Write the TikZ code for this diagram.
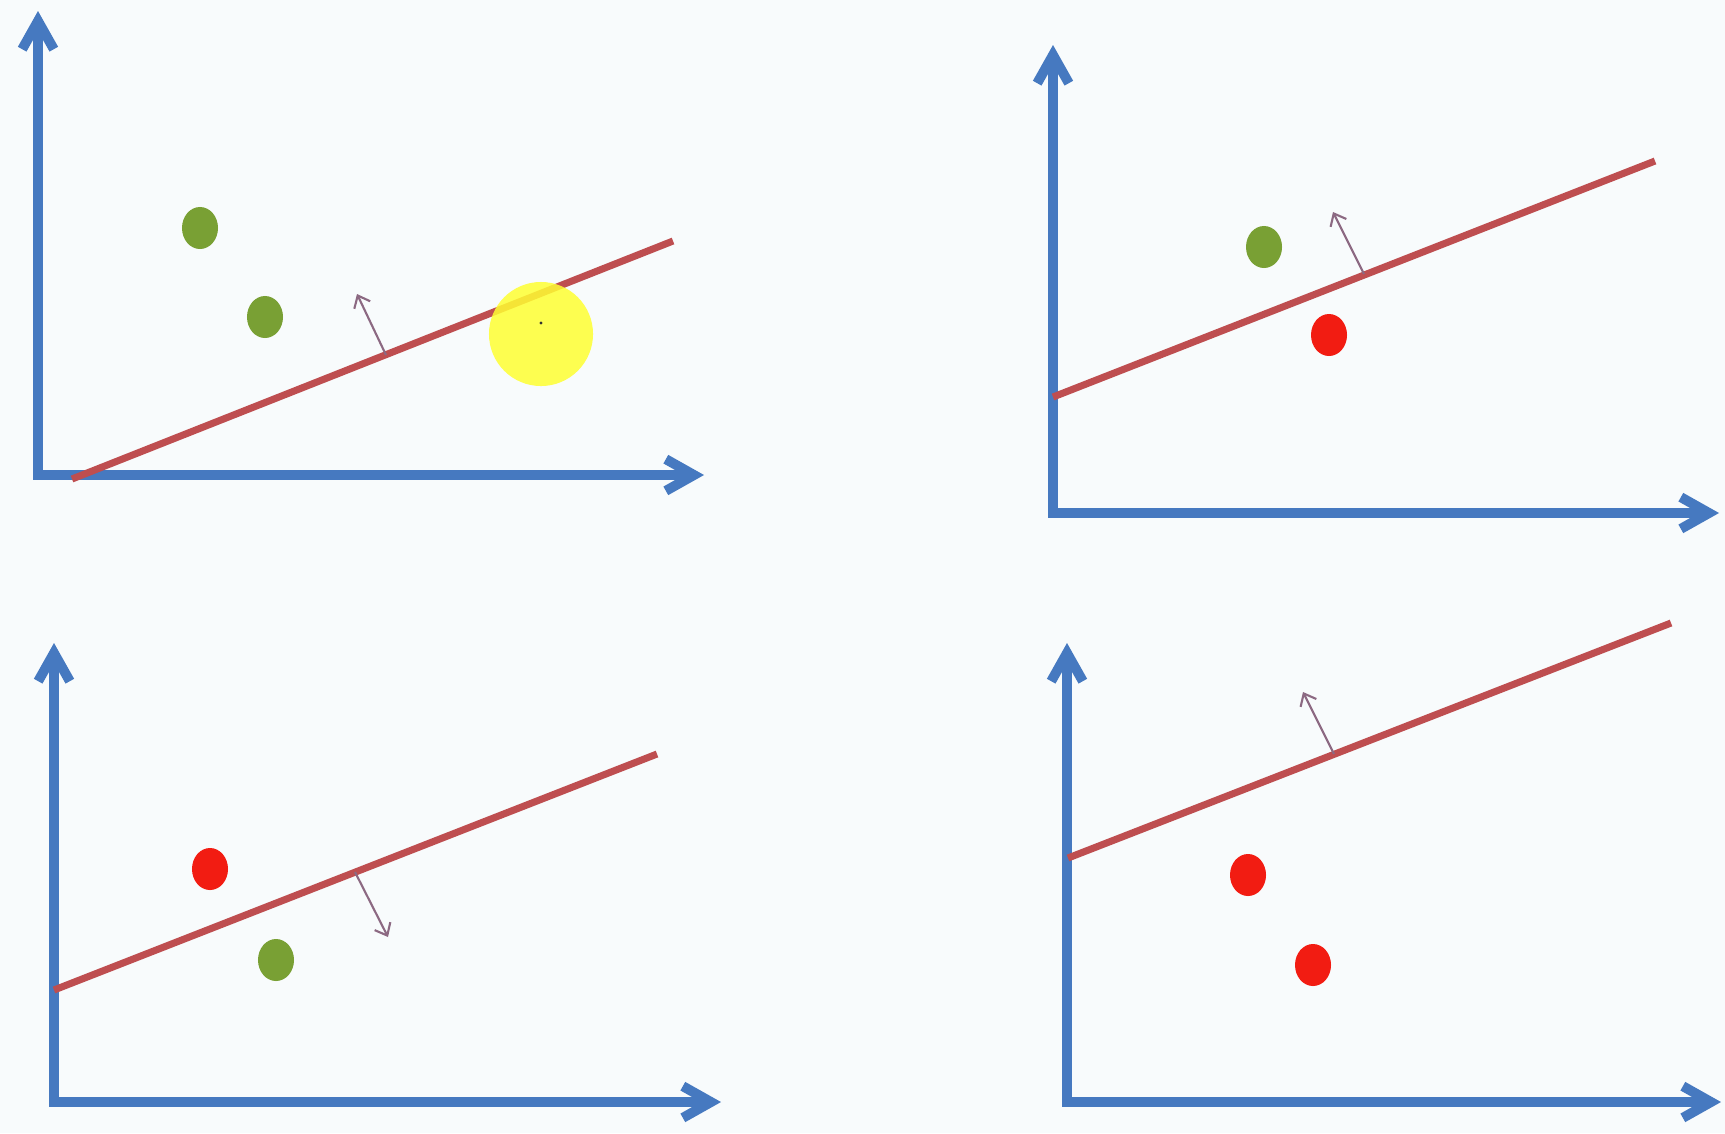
\documentclass[tikz,border=0pt]{standalone}
\usepackage{tikz}
\usetikzlibrary{arrows.meta,shapes.geometric}
\definecolor{axblue}{RGB}{70,121,192}
\definecolor{sepred}{RGB}{190,78,80}
\definecolor{ptgreen}{RGB}{121,160,52}
\definecolor{ptred}{RGB}{242,28,18}
\definecolor{nrmgray}{RGB}{140,105,130}
\definecolor{bgpaper}{RGB}{248,251,252}
\definecolor{hilite}{RGB}{255,255,50}

\begin{document}
\begin{tikzpicture}[x=0.01cm,y=-0.01cm,
  ax/.style={draw=axblue,line width=2.8pt,line cap=rect,-{Straight Barb[length=8pt,width=9pt]}},
  sep/.style={draw=sepred,line width=2pt},
  nrm/.style={draw=nrmgray,line width=0.6pt,-{Straight Barb[length=3pt,width=5pt]}},
  pt/.style={ellipse,minimum width=0.36cm,minimum height=0.42cm,inner sep=0pt},
  gpt/.style={pt,fill=ptgreen},
  rpt/.style={pt,fill=ptred}]
\fill[bgpaper] (0,0) rectangle (1725,1133);
\useasboundingbox (0,0) rectangle (1725,1133);

% top left
\coordinate (o1) at (38,475);
\coordinate (y1) at (38,11);
\coordinate (x1) at (704,475);
\coordinate (s1a) at (72,479);
\coordinate (s1b) at (673,241);
\coordinate (n1a) at (386,355);
\coordinate (n1b) at (357,294);
\draw[ax] (o1) -- (y1);
\draw[ax] (o1) -- (x1);
\draw[sep] (s1a) -- (s1b);
\draw[nrm] (n1a) -- (n1b);
\node[gpt] (g1) at (200,228) {};
\node[gpt] (g2) at (265,317) {};
\node[circle,fill=hilite,fill opacity=0.85,minimum size=1.04cm,inner sep=0pt] (hl) at (541,334) {};
\fill[black!80] (541,323) circle (1.6);

% top right
\coordinate (o2) at (1053,513);
\coordinate (y2) at (1053,45);
\coordinate (x2) at (1719,513);
\coordinate (s2a) at (1053,397);
\coordinate (s2b) at (1655,161);
\coordinate (n2a) at (1364,274);
\coordinate (n2b) at (1333,212);
\draw[ax] (o2) -- (y2);
\draw[ax] (o2) -- (x2);
\draw[sep] (s2a) -- (s2b);
\draw[nrm] (n2a) -- (n2b);
\node[gpt] (g3) at (1264,247) {};
\node[rpt] (r1) at (1329,335) {};

% bottom left
\coordinate (o3) at (54,1102);
\coordinate (y3) at (54,643);
\coordinate (x3) at (721,1102);
\coordinate (s3a) at (54,990);
\coordinate (s3b) at (657,754);
\coordinate (n3a) at (355,872);
\coordinate (n3b) at (388,937);
\draw[ax] (o3) -- (y3);
\draw[ax] (o3) -- (x3);
\draw[sep] (s3a) -- (s3b);
\draw[nrm] (n3a) -- (n3b);
\node[rpt] (r2) at (210,869) {};
\node[gpt] (g4) at (276,960) {};

% bottom right
\coordinate (o4) at (1067,1102);
\coordinate (y4) at (1067,643);
\coordinate (x4) at (1721,1102);
\coordinate (s4a) at (1068,858);
\coordinate (s4b) at (1671,623);
\coordinate (n4a) at (1334,754);
\coordinate (n4b) at (1303,692);
\draw[ax] (o4) -- (y4);
\draw[ax] (o4) -- (x4);
\draw[sep] (s4a) -- (s4b);
\draw[nrm] (n4a) -- (n4b);
\node[rpt] (r3) at (1248,875) {};
\node[rpt] (r4) at (1313,965) {};
\end{tikzpicture}
\end{document}
